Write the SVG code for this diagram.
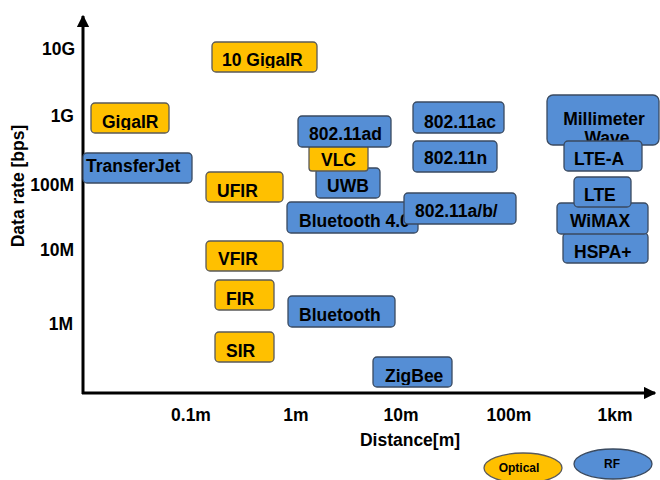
<svg xmlns="http://www.w3.org/2000/svg" width="660" height="480" viewBox="0 0 660 480">
<defs>
<marker id="arr" viewBox="0 0 10 10" refX="9" refY="5" markerWidth="4.2" markerHeight="4.2" orient="auto" markerUnits="strokeWidth">
<path d="M0,0 L10,5 L0,10 z" fill="#000"/>
</marker>
<clipPath id="c10g"><rect x="200" y="30" width="130" height="38"/></clipPath>
<clipPath id="cgig"><rect x="85" y="95" width="100" height="35"/></clipPath>
<clipPath id="czig"><rect x="370" y="350" width="90" height="35"/></clipPath>
</defs>
<style>
text{font-family:"Liberation Sans",Arial,sans-serif;font-weight:bold;fill:#000}
.lbl{font-size:17.5px}
.tick{font-size:17.5px}
.opt{fill:#FFC000;stroke:#5a5a5a;stroke-width:1.3}
.rf{fill:#558ED5;stroke:#3a4a60;stroke-width:1.3}
.ax{stroke:#000;stroke-width:3;fill:none}
</style>
<rect width="660" height="480" fill="#fff"/>
<g id="axes">
<line class="ax" x1="83" y1="394" x2="83" y2="16" marker-end="url(#arr)"/>
<line class="ax" x1="82" y1="393" x2="655" y2="393" marker-end="url(#arr)"/>
</g>
<g id="y-ticks">
<text class="tick" x="75" y="55" text-anchor="end">10G</text>
<text class="tick" x="74" y="122" text-anchor="end">1G</text>
<text class="tick" x="74" y="191" text-anchor="end">100M</text>
<text class="tick" x="74" y="256" text-anchor="end">10M</text>
<text class="tick" x="73" y="330" text-anchor="end">1M</text>
</g>
<g id="x-ticks">
<text class="tick" x="191" y="421" text-anchor="middle">0.1m</text>
<text class="tick" x="296" y="421" text-anchor="middle">1m</text>
<text class="tick" x="401" y="421" text-anchor="middle">10m</text>
<text class="tick" x="509" y="421" text-anchor="middle">100m</text>
<text class="tick" x="615" y="421" text-anchor="middle">1km</text>
</g>
<text class="tick" x="410" y="446" text-anchor="middle">Distance[m]</text>
<text class="tick" x="24" y="186" text-anchor="middle" transform="rotate(-90 24 186)">Data rate [bps]</text>
<g id="connectors"></g>
<g id="n-10gigair"><rect class="opt" x="212" y="42" width="105" height="30" rx="4"/><text class="lbl" x="222" y="66" clip-path="url(#c10g)">10 GigaIR</text></g>
<g id="n-gigair"><rect class="opt" x="91" y="103" width="78" height="30" rx="4"/><text class="lbl" x="102" y="128" clip-path="url(#cgig)">GigaIR</text></g>
<g id="n-transferjet"><rect class="rf" x="83" y="153" width="109" height="30" rx="4"/><text class="lbl" x="86" y="172">TransferJet</text></g>
<g id="n-ufir"><rect class="opt" x="206" y="172" width="77" height="30" rx="4"/><text class="lbl" x="217" y="197">UFIR</text></g>
<g id="n-uwb"><rect class="rf" x="316" y="168" width="64" height="30" rx="4"/><text class="lbl" x="327" y="192">UWB</text></g>
<g id="n-vlc"><rect class="opt" x="309" y="145" width="59" height="26" rx="3"/><text class="lbl" x="321" y="166">VLC</text></g>
<g id="n-80211ad"><rect class="rf" x="298" y="116" width="93" height="31" rx="4"/><text class="lbl" x="309" y="140">802.11ad</text></g>
<g id="n-bluetooth40"><rect class="rf" x="287" y="202" width="131" height="31" rx="4"/><text class="lbl" x="299" y="227">Bluetooth 4.0</text></g>
<g id="n-80211abg"><rect class="rf" x="404" y="193" width="112" height="31" rx="4"/><text class="lbl" x="415" y="217">802.11a/b/</text></g>
<g id="n-80211ac"><rect class="rf" x="413" y="102" width="91" height="31" rx="4"/><text class="lbl" x="424" y="128">802.11ac</text></g>
<g id="n-80211n"><rect class="rf" x="413" y="141" width="84" height="31" rx="4"/><text class="lbl" x="424" y="164">802.11n</text></g>
<g id="n-mmwave"><rect class="rf" x="547" y="95" width="112" height="50" rx="6"/><text class="lbl" x="604" y="125" text-anchor="middle">Millimeter</text><text class="lbl" x="607" y="144" text-anchor="middle">Wave</text></g>
<g id="n-ltea"><rect class="rf" x="564" y="141" width="78" height="30" rx="4"/><text class="lbl" x="574" y="165">LTE-A</text></g>
<g id="n-hspa"><rect class="rf" x="563" y="233" width="85" height="30" rx="4"/><text class="lbl" x="574" y="258">HSPA+</text></g>
<g id="n-wimax"><rect class="rf" x="557" y="203" width="91" height="31" rx="4"/><text class="lbl" x="570" y="227">WiMAX</text></g>
<g id="n-lte"><rect class="rf" x="574" y="177" width="57" height="30" rx="4"/><text class="lbl" x="584" y="201">LTE</text></g>
<g id="n-vfir"><rect class="opt" x="206" y="241" width="77" height="30" rx="4"/><text class="lbl" x="218" y="265">VFIR</text></g>
<g id="n-fir"><rect class="opt" x="215" y="280" width="59" height="30" rx="4"/><text class="lbl" x="226" y="305">FIR</text></g>
<g id="n-sir"><rect class="opt" x="215" y="332" width="59" height="30" rx="4"/><text class="lbl" x="226" y="357">SIR</text></g>
<g id="n-bluetooth"><rect class="rf" x="288" y="296" width="107" height="31" rx="4"/><text class="lbl" x="299" y="321">Bluetooth</text></g>
<g id="n-zigbee"><rect class="rf" x="373" y="357" width="79" height="30" rx="4"/><text class="lbl" x="385" y="382" clip-path="url(#czig)">ZigBee</text></g>
<g id="legend">
<g id="legend-optical"><ellipse class="opt" cx="523" cy="468" rx="39" ry="15"/><text x="519" y="472" text-anchor="middle" font-size="12">Optical</text></g>
<g id="legend-rf"><ellipse class="rf" cx="613" cy="464" rx="39" ry="15"/><text x="612" y="468" text-anchor="middle" font-size="12">RF</text></g>
</g>
</svg>
